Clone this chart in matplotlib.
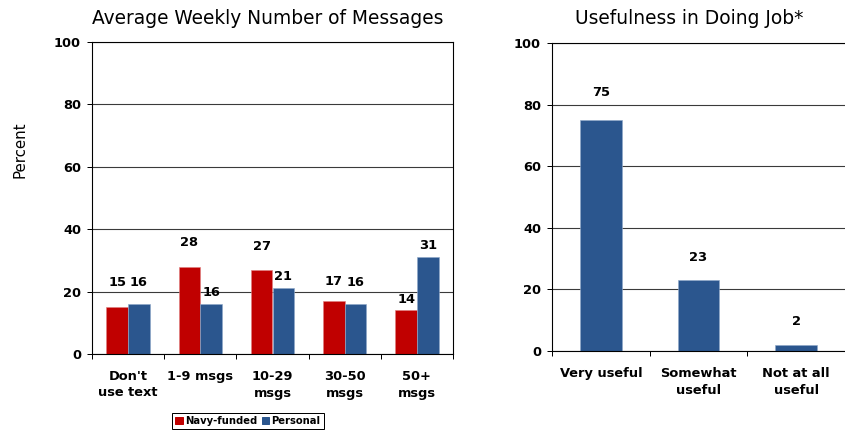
import numpy as np
import matplotlib
matplotlib.use("Agg")
import matplotlib.pyplot as plt
from matplotlib.patches import Patch

# data
msg_categories = ["Don't\nuse text", "1-9 msgs", "10-29\nmsgs", "30-50\nmsgs", "50+\nmsgs"]
navy_funded = [15, 28, 27, 17, 14]
personal = [16, 16, 21, 16, 31]

use_categories = ["Very useful", "Somewhat\nuseful", "Not at all\nuseful"]
usefulness = [75, 23, 2]

y_ticks = [0, 20, 40, 60, 80, 100]

# label lift above bar top, in px (the original labels sit unevenly)
navy_lift = [25, 24, 23, 19, 11]
personal_lift = [22, 12, 12, 22, 12]
use_lift = [27, 23, 23]

RED = "#C00000"
BLUE = "#2B568E"
GRID = "#3a3a3a"

plt.rcParams["font.family"] = "DejaVu Sans"

DPI = 72
fig = plt.figure(figsize=(845 / DPI, 430 / DPI), dpi=DPI)


def style_axes(ax, n):
    ax.set_ylim(0, 100)
    ax.set_xlim(-0.5, n - 0.5)
    ax.set_yticks(y_ticks)
    ax.set_yticklabels([str(t) for t in y_ticks], fontsize=13, fontweight="bold")
    ax.yaxis.grid(True, color=GRID, linewidth=1.1)
    ax.set_axisbelow(True)
    ax.tick_params(axis="y", length=5, width=1, pad=6, color="black")
    # category boundaries get the tick marks, centres get the labels
    ax.set_xticks(np.arange(n + 1) - 0.5)
    ax.set_xticklabels([])
    ax.tick_params(axis="x", which="major", length=5, width=1, color="black")
    ax.set_xticks(np.arange(n), minor=True)
    ax.tick_params(axis="x", which="minor", length=0, pad=16)
    for sp in ax.spines.values():
        sp.set_color("black")
        sp.set_linewidth(1.1)


# left chart
ax1 = fig.add_axes([92 / 845, 76 / 430, 361 / 845, 312 / 430])
x = np.arange(len(msg_categories))
w = 0.3
b1 = ax1.bar(x - w / 2, navy_funded, w, color=RED, edgecolor="#e08080", linewidth=0.6, label="Navy-funded")
b2 = ax1.bar(x + w / 2, personal, w, color=BLUE, edgecolor="#8fa8c8", linewidth=0.6, label="Personal")
style_axes(ax1, len(msg_categories))
ax1.set_xticklabels(msg_categories, minor=True, fontsize=13, fontweight="bold", linespacing=1.35)
ax1.set_ylabel("Percent", fontsize=15)
ax1.yaxis.set_label_coords(-65 / 361, 204 / 312)
for bars, vals, lifts in [(b1, navy_funded, navy_lift), (b2, personal, personal_lift)]:
    for bar, v, lift in zip(bars, vals, lifts):
        ax1.annotate(str(v), (bar.get_x() + bar.get_width() / 2, v), xytext=(0, lift),
                     textcoords="offset points", ha="center", va="center",
                     fontsize=13, fontweight="bold")

fig.text(268 / 845, 1 - 19 / 430, "Average Weekly Number of Messages", fontsize=18.6,
         ha="center", va="center")

fig.legend(handles=[Patch(color=RED, label="Navy-funded"), Patch(color=BLUE, label="Personal")],
           loc="upper center", bbox_to_anchor=(248 / 845, 1 - 413 / 430), ncol=2,
           prop={"size": 10, "weight": "bold"}, frameon=True, fancybox=False,
           edgecolor="black", framealpha=1, borderpad=0.3, handlelength=0.75,
           handleheight=0.75, handletextpad=0.25, columnspacing=0.4, borderaxespad=0)

# right chart
ax2 = fig.add_axes([552 / 845, 79 / 430, 293 / 845, 308 / 430])
x2 = np.arange(len(use_categories))
b3 = ax2.bar(x2, usefulness, 0.43, color=BLUE, edgecolor="#8fa8c8", linewidth=0.6)
style_axes(ax2, len(use_categories))
ax2.spines["right"].set_visible(False)
ax2.set_xticklabels(use_categories, minor=True, fontsize=13, fontweight="bold", linespacing=1.35)
for bar, v, lift in zip(b3, usefulness, use_lift):
    ax2.annotate(str(v), (bar.get_x() + bar.get_width() / 2, v), xytext=(0, lift),
                 textcoords="offset points", ha="center", va="center",
                 fontsize=13, fontweight="bold")

fig.text(689 / 845, 1 - 19 / 430, "Usefulness in Doing Job*", fontsize=18.6,
         ha="center", va="center")

fig.savefig("out.png", dpi=DPI, facecolor="white")
